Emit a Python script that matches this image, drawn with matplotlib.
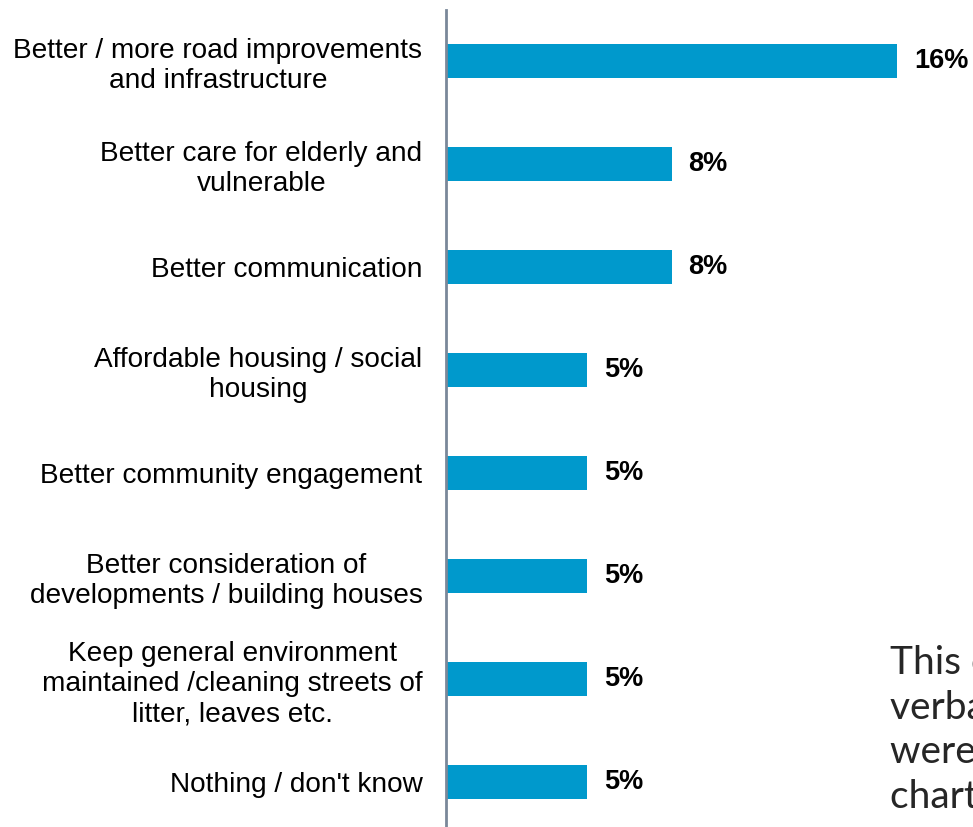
import matplotlib
matplotlib.use('Agg')
import matplotlib.pyplot as plt

# suggested improvements, share of respondents (%)
categories = [
    'Better / more road improvements\nand infrastructure',
    'Better care for elderly and\nvulnerable',
    'Better communication',
    'Affordable housing / social\nhousing',
    'Better community engagement',
    'Better consideration of\ndevelopments / building houses',
    'Keep general environment\nmaintained /cleaning streets of\nlitter, leaves etc.',
    "Nothing / don't know",
]
values = [16, 8, 8, 5, 5, 5, 5, 5]

note = 'This chart shows\nverbatim comments\nwere coded into\nchart categories'

bar_color = '#0099CC'
axis_color = '#7A8899'

plt.rcParams['font.family'] = ['Liberation Sans', 'DejaVu Sans']

fig = plt.figure(figsize=(9.73, 8.27), dpi=100)
ax = fig.add_axes([446 / 973, -0.0079, 507.6 / 973, 0.9964])

y = list(range(len(categories)))
ax.barh(y, values, height=0.33, color=bar_color, left=0)
ax.set_ylim(len(categories) - 0.5, -0.5)
ax.set_xlim(0, 18)

for yi, v in zip(y, values):
    ax.text(v + 0.6, yi, f'{v}%', va='center', ha='left',
            fontsize=19.5, fontweight='bold', color='#000000')

ax.set_yticks(y)
ax.set_yticklabels(categories, fontsize=20.2, ha='right',
                   multialignment='center', linespacing=1.22)
ax.tick_params(axis='y', length=0, pad=17)
ax.set_xticks([])

for side in ['top', 'right', 'bottom']:
    ax.spines[side].set_visible(False)
ax.spines['left'].set_color(axis_color)
ax.spines['left'].set_linewidth(2)

# note box on the right, runs off the edge of the slide
fig.text(890 / 973, 1 - 645 / 827, note, ha='left', va='top',
         fontsize=28, family=['Lato', 'DejaVu Sans'], color='#262626',
         linespacing=1.3)

fig.savefig('out.png', dpi=100)
